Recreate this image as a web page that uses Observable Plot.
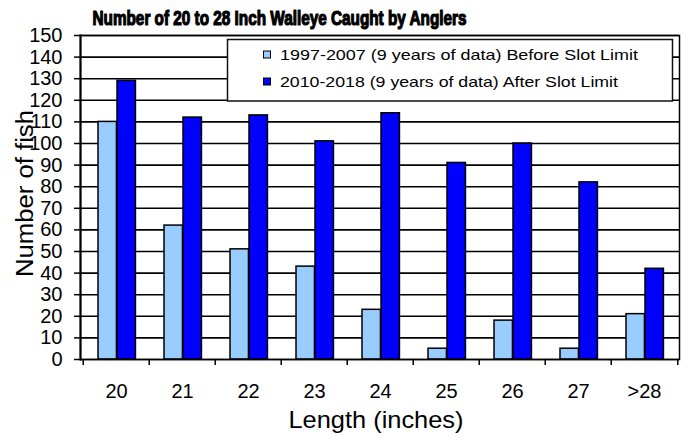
<!DOCTYPE html>
<html><head><meta charset="utf-8">
<script src="https://cdn.jsdelivr.net/npm/d3@7"></script>
<script src="https://cdn.jsdelivr.net/npm/@observablehq/plot@0.6"></script>
<style>body{margin:0;background:#fff} #chart{width:688px;height:440px}</style>
</head><body><div id="chart"></div>
<script>
const categories = ["20","21","22","23","24","25","26","27",">28"];
const before = [110,62,51,43,23,5,18,5,21];
const after = [129,112,113,101,114,91,100,82,42];
const yTicks = [0,10,20,30,40,50,60,70,80,90,100,110,120,130,140,150];
const seriesNames = ["1997-2007 (9 years of data) Before Slot Limit","2010-2018 (9 years of data) After Slot Limit"];
const colors = ["#99CCFF","#0000FF"];
const title = "Number of 20 to 28 Inch Walleye Caught by Anglers";
const xLabel = "Length (inches)";
const yLabel = "Number of fish";

const W = 688, H = 440, mL = 80, mR = 9, mT = 35, mB = 81;
const bw = (W - mL - mR) / categories.length;
const rows = categories.map((c, i) => ({cat: c, before: before[i], after: after[i]}));

const svg = Plot.plot({
  width: W, height: H,
  marginLeft: mL, marginRight: mR, marginTop: mT, marginBottom: mB,
  style: {fontFamily: "Arial, 'Liberation Sans', sans-serif", color: "black", background: "white"},
  x: {type: "band", domain: categories, padding: 0, axis: null},
  y: {domain: [0, 150], axis: null},
  marks: [
    Plot.ruleY(yTicks, {stroke: "black", strokeWidth: 1.6}),
    Plot.barY(rows, {x: "cat", y: "before", fill: colors[0], stroke: "black", strokeWidth: 1.5, insetLeft: 15, insetRight: bw - 34}),
    Plot.barY(rows, {x: "cat", y: "after", fill: colors[1], stroke: "black", strokeWidth: 1.5, insetLeft: 34, insetRight: bw - 53}),
    Plot.frame({stroke: "black", strokeWidth: 1.5}),
    Plot.frame({anchor: "left", stroke: "black", strokeWidth: 2}),
    Plot.axisY({ticks: yTicks, tickSize: 6, tickPadding: 12, fontSize: 20, label: null, strokeWidth: 1.5}),
    Plot.axisX({tickSize: 0, tickPadding: 24, fontSize: 20, label: null}),
    Plot.axisX({tickSize: 6, tickFormat: () => "", label: null, dx: -bw / 2, strokeWidth: 1.5}),
    Plot.axisX({ticks: [categories[categories.length - 1]], tickSize: 6, tickFormat: () => "", label: null, dx: bw / 2, strokeWidth: 1.5}),
    Plot.text([title], {frameAnchor: "top", textAnchor: "middle", dx: -100.5, dy: -24.5, fontSize: 20, fontWeight: 900, stroke: "black", strokeWidth: 1.2, fill: "black"}),
    Plot.text([xLabel], {frameAnchor: "bottom", textAnchor: "middle", dx: -4, dy: 68.5, fontSize: 24, fill: "black"}),
    Plot.text([yLabel], {frameAnchor: "left", textAnchor: "middle", dx: -55, dy: -4, rotate: -90, fontSize: 23, fill: "black"})
  ]
});

const s = d3.select(svg);
s.selectAll("text").filter(function(){ return this.textContent === title; })
  .attr("textLength", 374).attr("lengthAdjust", "spacingAndGlyphs");
s.selectAll("text").filter(function(){ return this.textContent === xLabel; })
  .attr("textLength", 175).attr("lengthAdjust", "spacingAndGlyphs");
s.selectAll("text").filter(function(){ return this.textContent === yLabel; })
  .attr("textLength", 167).attr("lengthAdjust", "spacingAndGlyphs");

// legend box
const lg = s.append("g").attr("font-family", "Arial, 'Liberation Sans', sans-serif").attr("text-anchor", "start");
lg.append("rect").attr("x", 227.5).attr("y", 39.5).attr("width", 445).attr("height", 61.5)
  .attr("fill", "white").attr("stroke", "#111").attr("stroke-width", 1.5);
const rowY = [55, 82];
const lens = [358, 338];
seriesNames.forEach((name, i) => {
  lg.append("rect").attr("x", 263.5).attr("y", rowY[i] - 4).attr("width", 7).attr("height", 7)
    .attr("fill", colors[i]).attr("stroke", "black").attr("stroke-width", 1);
  lg.append("text").attr("x", 280).attr("y", rowY[i] + 5.3).attr("font-size", 15).attr("fill", "black")
    .attr("text-anchor", "start")
    .attr("textLength", lens[i]).attr("lengthAdjust", "spacingAndGlyphs").text(name);
});

document.getElementById("chart").appendChild(svg);
</script>
</body></html>
